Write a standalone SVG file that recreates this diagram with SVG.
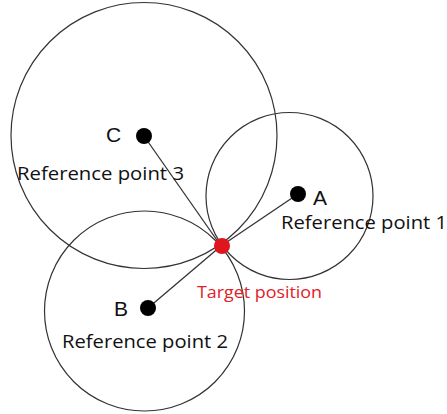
<svg xmlns="http://www.w3.org/2000/svg" width="447" height="414" viewBox="0 0 447 414">
<style>
.ring{fill:none;stroke:#333;stroke-width:1.2}
.dot{fill:#000}
.lbl{font-family:"Open Sans","Liberation Sans",sans-serif;font-size:18px;fill:#111}
.let{font-family:"Liberation Sans",Arial,sans-serif;font-size:21px;fill:#111}
.conn{stroke:#333;stroke-width:1.3}
</style>
<rect width="447" height="414" fill="#fff"/>
<g id="circle-C"><circle class="ring" cx="144" cy="135.5" r="133"/></g>
<g id="circle-A"><circle class="ring" cx="289.5" cy="196" r="83.5"/></g>
<g id="circle-B"><circle class="ring" cx="144.5" cy="311" r="100"/></g>
<g id="connectors">
<line class="conn" x1="144" y1="136" x2="221" y2="246"/>
<line class="conn" x1="298" y1="194" x2="221" y2="246"/>
<line class="conn" x1="148" y1="308" x2="221" y2="246"/>
</g>
<g id="node-C">
<circle class="dot" cx="144" cy="136" r="8"/>
<text class="let" x="106" y="142">C</text>
<text class="lbl" x="17" y="180" textLength="167" lengthAdjust="spacingAndGlyphs">Reference point 3</text>
</g>
<g id="node-A">
<circle class="dot" cx="298" cy="194" r="8"/>
<text class="let" x="313" y="205">A</text>
<text class="lbl" x="281" y="229" textLength="166" lengthAdjust="spacingAndGlyphs">Reference point 1</text>
</g>
<g id="node-B">
<circle class="dot" cx="148" cy="308" r="8"/>
<text class="let" x="114" y="316">B</text>
<text class="lbl" x="62" y="348" textLength="166" lengthAdjust="spacingAndGlyphs">Reference point 2</text>
</g>
<g id="node-target">
<circle cx="222" cy="246" r="8" fill="#e0161e"/>
<text x="197" y="298" font-family="'Open Sans','Liberation Sans',sans-serif" font-size="16.5" fill="#e0202a" textLength="125" lengthAdjust="spacingAndGlyphs">Target position</text>
</g>
</svg>
